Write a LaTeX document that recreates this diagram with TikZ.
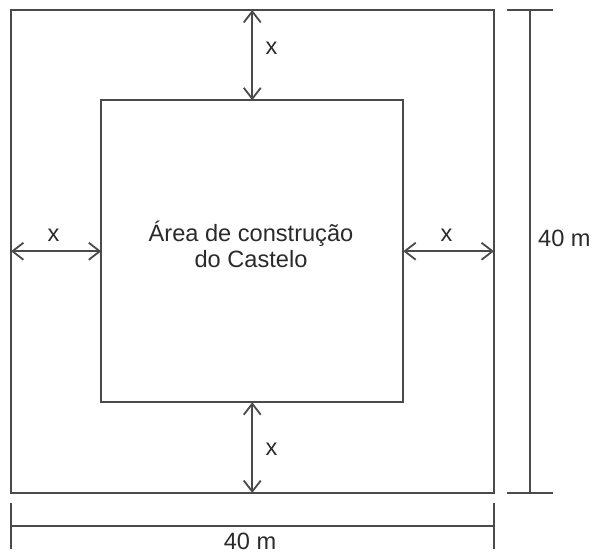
\documentclass[tikz,border=0pt]{standalone}
\usepackage{fontspec}
\setmainfont{Liberation Sans}
\usetikzlibrary{arrows.meta}
\definecolor{ln}{HTML}{4A4A4A}
\definecolor{tx}{HTML}{2A2A2A}
\begin{document}
\begin{tikzpicture}[x=1pt,y=-1pt,
  sq/.style={draw=ln,line width=1.8pt,minimum width=#1,minimum height=#1,inner sep=0pt,outer sep=0pt},
  dimarrow/.style={draw=ln,line width=1.8pt,{Straight Barb[length=11pt,width=17pt]}-{Straight Barb[length=11pt,width=17pt]}},
  dimline/.style={draw=ln,line width=1.8pt},
  lbl/.style={text=tx,font=\fontsize{23.6}{26}\selectfont,inner sep=0pt}]
\useasboundingbox (0,0) rectangle (594,554);
\node[sq=483pt] (outer) at (252.5,251.5) {};
\node[sq=302pt] (inner) at (252.25,251.25) {};
\node[lbl,align=center] (area) at (251,244) {Área de construção\\do Castelo};
% arrows
\draw[dimarrow] (inner.north) -- (inner.north |- outer.north);
\draw[dimarrow] (inner.south) -- (inner.south |- outer.south);
\draw[dimarrow] (inner.west) -- (inner.west -| outer.west);
\draw[dimarrow] (inner.east) -- (inner.east -| outer.east);
\node[lbl] (xt) at (271.5,48) {x};
\node[lbl] (xb) at (271.5,449) {x};
\node[lbl] (xl) at (53.5,235) {x};
\node[lbl] (xr) at (446.5,235) {x};
% right dimension
\coordinate (rt) at (530,10);
\coordinate (rb) at (530,493);
\draw[dimline] (rt) -- (rb);
\draw[dimline] ([xshift=-23pt]rt) -- ([xshift=23pt]rt);
\draw[dimline] ([xshift=-23pt]rb) -- ([xshift=23pt]rb);
\node[lbl,anchor=west] (dr) at (538,238) {40 m};
% bottom dimension
\coordinate (bl) at (11,526);
\coordinate (br) at (494,526);
\draw[dimline] (bl) -- (br);
\draw[dimline] ([yshift=-23pt]bl) -- ([yshift=23pt]bl);
\draw[dimline] ([yshift=-23pt]br) -- ([yshift=23pt]br);
\node[lbl] (db) at (250,541.5) {40 m};
\end{tikzpicture}
\end{document}
